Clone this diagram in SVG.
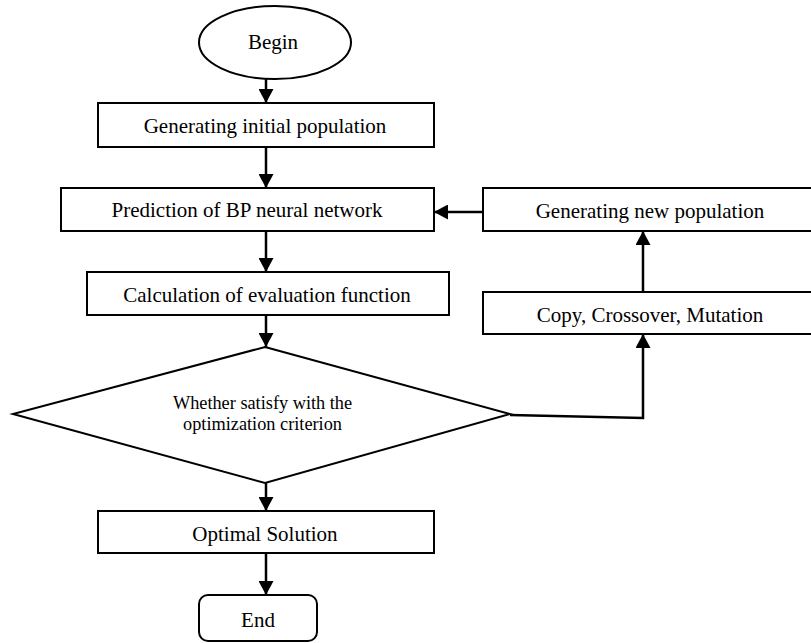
<svg xmlns="http://www.w3.org/2000/svg" width="811" height="643" viewBox="0 0 811 643">
<defs>
<style>
.box{fill:#fff;stroke:#000;stroke-width:2}
.lbl{font-family:"Liberation Serif","Times New Roman",serif;font-size:21px;fill:#000;text-anchor:middle}
.sm{font-size:18.3px}
.conn{fill:none;stroke:#000;stroke-width:2.5}
</style>
<marker id="ah" markerUnits="userSpaceOnUse" markerWidth="15" markerHeight="15" refX="14" refY="7.5" orient="auto">
<path d="M0,0 L14,7.5 L0,15 z" fill="#000"/>
</marker>
</defs>
<rect width="811" height="643" fill="#fff"/>
<g id="connectors">
<line class="conn" x1="266" y1="79" x2="266" y2="103" marker-end="url(#ah)"/>
<line class="conn" x1="266" y1="147" x2="266" y2="188" marker-end="url(#ah)"/>
<line class="conn" x1="266" y1="231" x2="266" y2="272" marker-end="url(#ah)"/>
<line class="conn" x1="266" y1="315" x2="266" y2="347" marker-end="url(#ah)"/>
<line class="conn" x1="266" y1="483" x2="266" y2="511" marker-end="url(#ah)"/>
<line class="conn" x1="266" y1="553" x2="266" y2="595" marker-end="url(#ah)"/>
<polyline class="conn" points="510,415 643,418 643,334" marker-end="url(#ah)"/>
<line class="conn" x1="643" y1="292" x2="643" y2="231" marker-end="url(#ah)"/>
<line class="conn" x1="483" y1="212" x2="434" y2="212" marker-end="url(#ah)"/>
</g>
<g id="begin">
<ellipse class="box" cx="275" cy="42.5" rx="76" ry="36.5"/>
<text class="lbl" x="273" y="49">Begin</text>
</g>
<g id="init">
<rect class="box" x="98" y="103" width="336" height="44"/>
<text class="lbl" x="265" y="133">Generating initial population</text>
</g>
<g id="predict">
<rect class="box" x="61" y="188" width="373" height="43"/>
<text class="lbl" x="247" y="217">Prediction of BP neural network</text>
</g>
<g id="calc">
<rect class="box" x="87" y="272" width="362" height="43"/>
<text class="lbl" x="267" y="302">Calculation of evaluation function</text>
</g>
<g id="decision">
<polygon class="box" points="265,347 510,414 265,483 13,414"/>
<text class="lbl sm" x="262.5" y="409">Whether satisfy with the</text>
<text class="lbl sm" x="262.5" y="430">optimization criterion</text>
</g>
<g id="optimal">
<rect class="box" x="98" y="511" width="336" height="42"/>
<text class="lbl" x="265" y="541">Optimal Solution</text>
</g>
<g id="end">
<rect class="box" x="199" y="595" width="118" height="46" rx="9"/>
<text class="lbl" x="258" y="627">End</text>
</g>
<g id="newpop">
<rect class="box" x="483" y="188" width="340" height="43"/>
<text class="lbl" x="650" y="218">Generating new population</text>
</g>
<g id="genetic">
<rect class="box" x="483" y="292" width="340" height="42"/>
<text class="lbl" x="650" y="322">Copy, Crossover, Mutation</text>
</g>
</svg>
